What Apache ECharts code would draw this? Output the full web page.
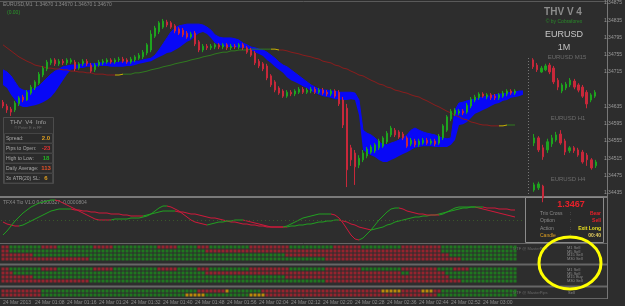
<!DOCTYPE html>
<html><head><meta charset="utf-8">
<script src="https://cdn.jsdelivr.net/npm/echarts@6/dist/echarts.min.js"></script>
<style>html,body{margin:0;padding:0;background:#2d2d2d;overflow:hidden}#c{width:625px;height:306px}</style>
</head><body><div id="c"></div>
<script>
// ---------------- DATA ----------------
const barOpen = [1.34645,1.34636,1.34629,1.34627,1.34641,1.34657,1.34650,1.34666,1.34678,1.34689,
1.34708,1.34722,1.34736,1.34743,1.34734,1.34740,1.34736,1.34738,1.34738,1.34724,
1.34734,1.34740,1.34731,1.34720,1.34731,1.34736,1.34738,1.34743,1.34738,1.34743,
1.34745,1.34743,1.34738,1.34743,1.34747,1.34750,1.34759,1.34766,1.34798,1.34808,
1.34819,1.34831,1.34829,1.34822,1.34815,1.34812,1.34805,1.34796,1.34805,1.34785,
1.34766,1.34775,1.34771,1.34773,1.34778,1.34773,1.34778,1.34771,1.34775,1.34773,
1.34778,1.34771,1.34766,1.34759,1.34740,1.34734,1.34729,1.34706,1.34692,1.34678,
1.34671,1.34659,1.34668,1.34664,1.34668,1.34675,1.34668,1.34671,1.34675,1.34668,
1.34673,1.34668,1.34664,1.34671,1.34668,1.34650,1.34631,1.34539,1.34527,1.34499,
1.34511,1.34520,1.34529,1.34532,1.34539,1.34543,1.34553,1.34569,1.34580,1.34576,
1.34571,1.34562,1.34548,1.34555,1.34546,1.34550,1.34557,1.34550,1.34555,1.34550,
1.34562,1.34580,1.34606,1.34618,1.34620,1.34624,1.34622,1.34636,1.34650,1.34655,
1.34664,1.34657,1.34662,1.34659,1.34655,1.34659,1.34664,1.34671,1.34666];
const barClose = [1.34636,1.34627,1.34622,1.34643,1.34655,1.34650,1.34668,1.34680,1.34692,1.34710,
1.34724,1.34738,1.34743,1.34734,1.34740,1.34736,1.34743,1.34743,1.34722,1.34734,
1.34740,1.34734,1.34717,1.34731,1.34738,1.34740,1.34743,1.34738,1.34743,1.34745,
1.34740,1.34738,1.34745,1.34750,1.34754,1.34761,1.34778,1.34803,1.34817,1.34829,
1.34833,1.34824,1.34819,1.34810,1.34805,1.34801,1.34796,1.34803,1.34780,1.34766,
1.34775,1.34771,1.34775,1.34778,1.34773,1.34778,1.34771,1.34775,1.34773,1.34778,
1.34771,1.34761,1.34754,1.34736,1.34729,1.34722,1.34701,1.34685,1.34673,1.34666,
1.34659,1.34668,1.34664,1.34671,1.34675,1.34668,1.34673,1.34675,1.34668,1.34673,
1.34666,1.34664,1.34671,1.34659,1.34641,1.34592,1.34488,1.34511,1.34495,1.34515,
1.34527,1.34536,1.34541,1.34546,1.34555,1.34562,1.34573,1.34585,1.34569,1.34564,
1.34562,1.34543,1.34557,1.34546,1.34555,1.34557,1.34550,1.34555,1.34548,1.34566,
1.34590,1.34611,1.34624,1.34627,1.34624,1.34620,1.34638,1.34652,1.34657,1.34664,
1.34659,1.34662,1.34655,1.34655,1.34662,1.34666,1.34671,1.34666,1.34671];
const barHigh = [1.34650,1.34641,1.34634,1.34648,1.34659,1.34662,1.34673,1.34685,1.34696,1.34715,
1.34729,1.34743,1.34747,1.34747,1.34745,1.34745,1.34747,1.34747,1.34743,1.34738,
1.34745,1.34745,1.34736,1.34736,1.34743,1.34745,1.34747,1.34747,1.34747,1.34750,
1.34750,1.34747,1.34750,1.34754,1.34759,1.34766,1.34782,1.34812,1.34822,1.34833,
1.34838,1.34836,1.34833,1.34826,1.34819,1.34817,1.34810,1.34808,1.34810,1.34789,
1.34780,1.34780,1.34780,1.34782,1.34782,1.34782,1.34782,1.34780,1.34780,1.34782,
1.34782,1.34775,1.34771,1.34764,1.34745,1.34738,1.34734,1.34710,1.34696,1.34682,
1.34675,1.34673,1.34673,1.34675,1.34680,1.34680,1.34678,1.34680,1.34680,1.34678,
1.34678,1.34673,1.34675,1.34675,1.34673,1.34657,1.34641,1.34546,1.34534,1.34522,
1.34534,1.34541,1.34546,1.34550,1.34560,1.34566,1.34578,1.34590,1.34585,1.34580,
1.34576,1.34566,1.34562,1.34560,1.34560,1.34562,1.34562,1.34560,1.34560,1.34571,
1.34594,1.34615,1.34629,1.34631,1.34629,1.34629,1.34643,1.34657,1.34662,1.34668,
1.34668,1.34666,1.34666,1.34664,1.34666,1.34671,1.34675,1.34675,1.34675];
const barLow = [1.34631,1.34620,1.34613,1.34622,1.34636,1.34645,1.34648,1.34662,1.34673,1.34685,
1.34703,1.34717,1.34731,1.34729,1.34729,1.34731,1.34731,1.34734,1.34717,1.34720,
1.34729,1.34729,1.34713,1.34715,1.34727,1.34731,1.34734,1.34734,1.34734,1.34738,
1.34736,1.34734,1.34734,1.34738,1.34743,1.34745,1.34754,1.34761,1.34794,1.34803,
1.34815,1.34819,1.34815,1.34805,1.34801,1.34796,1.34792,1.34792,1.34775,1.34761,
1.34761,1.34766,1.34766,1.34768,1.34768,1.34768,1.34766,1.34766,1.34768,1.34768,
1.34766,1.34757,1.34750,1.34731,1.34724,1.34717,1.34696,1.34680,1.34668,1.34662,
1.34655,1.34655,1.34659,1.34659,1.34664,1.34664,1.34664,1.34666,1.34664,1.34664,
1.34662,1.34659,1.34659,1.34655,1.34636,1.34585,1.34448,1.34497,1.34453,1.34492,
1.34506,1.34515,1.34525,1.34527,1.34534,1.34539,1.34548,1.34564,1.34564,1.34560,
1.34557,1.34539,1.34543,1.34541,1.34541,1.34546,1.34546,1.34546,1.34543,1.34546,
1.34557,1.34576,1.34601,1.34613,1.34615,1.34615,1.34618,1.34631,1.34645,1.34650,
1.34655,1.34652,1.34650,1.34650,1.34650,1.34655,1.34659,1.34662,1.34662];

const cloudUpper = [1.34720,1.34715,1.34706,1.34692,1.34678,1.34673,1.34671,1.34673,1.34678,1.34682,
1.34692,1.34701,1.34710,1.34717,1.34722,1.34727,1.34729,1.34731,1.34731,1.34731,
1.34734,1.34734,1.34734,1.34734,1.34736,1.34736,1.34736,1.34736,1.34736,1.34738,
1.34738,1.34738,1.34738,1.34740,1.34740,1.34743,1.34745,1.34747,1.34754,1.34766,
1.34780,1.34794,1.34808,1.34817,1.34822,1.34824,1.34826,1.34826,1.34826,1.34826,
1.34824,1.34819,1.34812,1.34801,1.34796,1.34794,1.34794,1.34794,1.34792,1.34789,
1.34782,1.34778,1.34773,1.34771,1.34768,1.34766,1.34761,1.34754,1.34747,1.34738,
1.34731,1.34727,1.34720,1.34713,1.34706,1.34699,1.34692,1.34685,1.34680,1.34675,
1.34673,1.34673,1.34671,1.34671,1.34668,1.34668,1.34668,1.34668,1.34666,1.34650,
1.34580,1.34573,1.34569,1.34562,1.34553,1.34546,1.34546,1.34550,1.34553,1.34557,
1.34562,1.34569,1.34580,1.34585,1.34580,1.34576,1.34573,1.34571,1.34569,1.34564,
1.34562,1.34560,1.34562,1.34627,1.34643,1.34645,1.34648,1.34650,1.34652,1.34655,
1.34657,1.34659,1.34659,1.34662,1.34664,1.34664,1.34666,1.34668,1.34668,1.34671,1.34671];
const cloudLower = [1.34685,1.34678,1.34662,1.34650,1.34638,1.34634,1.34634,1.34636,1.34638,1.34641,
1.34645,1.34650,1.34657,1.34668,1.34682,1.34696,1.34710,1.34720,1.34722,1.34724,
1.34724,1.34727,1.34727,1.34727,1.34729,1.34729,1.34729,1.34727,1.34727,1.34727,
1.34727,1.34729,1.34729,1.34731,1.34734,1.34736,1.34738,1.34740,1.34745,1.34750,
1.34754,1.34759,1.34761,1.34766,1.34771,1.34778,1.34785,1.34789,1.34798,1.34805,
1.34808,1.34803,1.34794,1.34782,1.34778,1.34775,1.34773,1.34773,1.34773,1.34771,
1.34771,1.34771,1.34766,1.34761,1.34757,1.34752,1.34743,1.34736,1.34727,1.34720,
1.34713,1.34703,1.34696,1.34692,1.34687,1.34682,1.34678,1.34671,1.34666,1.34662,
1.34659,1.34657,1.34655,1.34652,1.34652,1.34650,1.34650,1.34652,1.34650,1.34615,
1.34534,1.34527,1.34522,1.34518,1.34511,1.34506,1.34506,1.34511,1.34515,1.34520,
1.34525,1.34529,1.34534,1.34539,1.34541,1.34543,1.34543,1.34543,1.34541,1.34541,
1.34541,1.34541,1.34546,1.34557,1.34592,1.34594,1.34599,1.34608,1.34618,1.34622,
1.34627,1.34631,1.34636,1.34641,1.34643,1.34648,1.34650,1.34655,1.34657,1.34659,1.34662];

const maValues = [1.34778,1.34771,1.34764,1.34757,1.34750,1.34745,1.34740,1.34736,1.34731,1.34729,
1.34727,1.34724,1.34724,1.34722,1.34722,1.34720,1.34720,1.34717,1.34717,1.34715,
1.34715,1.34713,1.34713,1.34710,1.34710,1.34710,1.34708,1.34708,1.34708,1.34708,
1.34710,1.34710,1.34710,1.34713,1.34713,1.34715,1.34717,1.34720,1.34722,1.34724,
1.34727,1.34729,1.34731,1.34734,1.34736,1.34738,1.34740,1.34743,1.34745,1.34747,
1.34750,1.34752,1.34754,1.34757,1.34759,1.34761,1.34761,1.34764,1.34764,1.34766,
1.34766,1.34766,1.34768,1.34768,1.34768,1.34768,1.34768,1.34768,1.34768,1.34766,
1.34766,1.34764,1.34761,1.34759,1.34757,1.34754,1.34752,1.34750,1.34747,1.34745,
1.34740,1.34738,1.34736,1.34731,1.34729,1.34724,1.34722,1.34717,1.34713,1.34708,
1.34706,1.34701,1.34696,1.34692,1.34687,1.34685,1.34680,1.34678,1.34673,1.34671,
1.34668,1.34666,1.34662,1.34659,1.34657,1.34652,1.34648,1.34643,1.34638,1.34634,
1.34629,1.34624,1.34620,1.34615,1.34611,1.34606,1.34604,1.34599,1.34597,1.34594,
1.34592,1.34592,1.34590,1.34590,1.34590,1.34590,1.34592,1.34592,1.34592];

// pivot levels drawn across the price pane
const levelValues = [1.34754, 1.34747, 1.34643, 1.34532];
const levelNames  = ['', '', 'MS2', 'S2'];

// right price axis ticks
const priceTicks = [1.34875,1.34835,1.34795,1.34755,1.34715,1.34635,1.34595,1.34555,1.34515,1.34475,1.34435];

// TRIX oscillator (fast & signal)
const trixFast = [-0.00015,-0.00011,-0.00006,-0.00001,0.00003,0.00007,0.00010,0.00013,0.00015,0.00017,
0.00018,0.00019,0.00020,0.00020,0.00019,0.00017,0.00015,0.00013,0.00011,0.00009,
0.00007,0.00005,0.00003,0.00001,0.00000,0.00000,0.00000,0.00000,0.00001,0.00001,
0.00001,0.00001,0.00002,0.00002,0.00002,0.00003,0.00004,0.00006,0.00009,0.00012,
0.00014,0.00014,0.00013,0.00011,0.00009,0.00006,0.00003,0.00000,-0.00002,-0.00003,
-0.00004,-0.00005,-0.00004,-0.00003,-0.00002,-0.00002,-0.00001,-0.00001,0.00000,0.00000,
0.00000,-0.00001,-0.00002,-0.00003,-0.00004,-0.00005,-0.00006,-0.00007,-0.00007,-0.00007,
-0.00007,-0.00006,-0.00004,-0.00002,0.00000,0.00002,0.00003,0.00004,0.00005,0.00006,
0.00006,0.00006,0.00006,0.00005,0.00002,-0.00003,-0.00009,-0.00015,-0.00019,-0.00020,
-0.00018,-0.00014,-0.00010,-0.00005,0.00000,0.00004,0.00008,0.00011,0.00012,0.00012,
0.00011,0.00009,0.00008,0.00007,0.00006,0.00006,0.00005,0.00005,0.00005,0.00005,
0.00006,0.00008,0.00010,0.00012,0.00013,0.00013,0.00013,0.00013,0.00013,0.00013,
0.00013,0.00012,0.00012,0.00012,0.00011,0.00011,0.00011,0.00010,0.00010];
const trixSignal = [-0.00002,-0.00004,-0.00005,-0.00006,-0.00006,-0.00005,-0.00003,-0.00001,0.00001,0.00003,
0.00005,0.00007,0.00009,0.00010,0.00011,0.00011,0.00011,0.00011,0.00010,0.00010,
0.00009,0.00009,0.00008,0.00008,0.00007,0.00007,0.00007,0.00006,0.00006,0.00006,
0.00005,0.00005,0.00004,0.00004,0.00004,0.00004,0.00005,0.00006,0.00007,0.00008,
0.00009,0.00009,0.00009,0.00009,0.00008,0.00008,0.00007,0.00006,0.00006,0.00005,
0.00004,0.00003,0.00002,0.00002,0.00001,0.00000,-0.00001,-0.00002,-0.00002,-0.00003,
-0.00004,-0.00004,-0.00005,-0.00005,-0.00006,-0.00006,-0.00007,-0.00007,-0.00007,-0.00007,
-0.00007,-0.00007,-0.00006,-0.00006,-0.00005,-0.00005,-0.00004,-0.00004,-0.00003,-0.00002,
-0.00002,-0.00001,-0.00001,0.00000,0.00000,-0.00001,-0.00002,-0.00004,-0.00005,-0.00007,
-0.00008,-0.00009,-0.00010,-0.00009,-0.00008,-0.00007,-0.00005,-0.00004,-0.00002,-0.00001,
0.00000,0.00001,0.00002,0.00003,0.00003,0.00004,0.00004,0.00005,0.00005,0.00006,
0.00007,0.00008,0.00009,0.00010,0.00011,0.00012,0.00012,0.00013,0.00013,0.00012,
0.00011,0.00010,0.00009,0.00008,0.00007,0.00006,0.00005,0.00004,0.00003];
const trixLevels = [0.00003, -0.00018];

// Mini charts (M15, H1, H4)
const m15Open  = [1.34743,1.34731,1.34715,1.34720,1.34731,1.34724,1.34696,1.34671,1.34678,1.34685,1.34694,1.34685,1.34680,1.34668,1.34650,1.34659];
const m15Close = [1.34727,1.34720,1.34724,1.34729,1.34715,1.34692,1.34680,1.34685,1.34687,1.34696,1.34680,1.34673,1.34659,1.34641,1.34662,1.34668];
const m15Low   = [1.34722,1.34715,1.34713,1.34717,1.34710,1.34687,1.34673,1.34666,1.34673,1.34680,1.34675,1.34668,1.34655,1.34631,1.34645,1.34655];
const m15High  = [1.34747,1.34736,1.34729,1.34734,1.34736,1.34729,1.34701,1.34689,1.34692,1.34701,1.34699,1.34689,1.34685,1.34673,1.34666,1.34673];
const h1Open  = [1.34550,1.34562,1.34539,1.34534,1.34548,1.34557,1.34571,1.34555,1.34532,1.34539,1.34534,1.34529,1.34522,1.34511,1.34497];
const h1Close = [1.34562,1.34534,1.34518,1.34553,1.34562,1.34569,1.34550,1.34529,1.34539,1.34532,1.34522,1.34506,1.34511,1.34492,1.34506];
const h1Low   = [1.34543,1.34529,1.34511,1.34527,1.34541,1.34553,1.34546,1.34522,1.34527,1.34527,1.34518,1.34502,1.34497,1.34488,1.34492];
const h1High  = [1.34571,1.34566,1.34546,1.34560,1.34569,1.34576,1.34580,1.34560,1.34543,1.34543,1.34539,1.34534,1.34527,1.34515,1.34511];
const h4Open  = [1.34441,1.34446,1.34450];
const h4Close = [1.34453,1.34455,1.34423];
const h4Low   = [1.34437,1.34441,1.34413];
const h4High  = [1.34458,1.34460,1.34453];

// MTF signal squares: run-length [state, count]; R=sell, G=buy, Y=neutral
const panelARows = [
 [['R',2],['G',8],['R',4],['G',9],['R',5],['G',11],['R',5],['G',5],['R',3],['G',10],['R',10],['G',11],['R',7],['G',10],['R',10],['G',19]],
 [['R',2],['G',49],['R',59],['G',19]],
 [['R',8],['G',63],['R',41],['G',17]],
 [['R',22],['G',59],['R',34],['G',14]]
];
const panelBRows = [
 [['R',2],['G',8],['R',4],['G',9],['R',5],['G',11],['R',5],['G',5],['R',3],['G',10],['R',10],['G',9],['R',9],['G',10],['R',9],['G',4],['R',4],['G',12]],
 [['R',3],['G',48],['R',49],['G',2],['R',9],['G',18]],
 [['R',8],['G',63],['R',41],['G',17]],
 [['R',22],['G',59],['R',34],['G',14]]
];
const panelCRows = [
 [['R',10],['G',39],['R',7],['Y',1],['G',8],['R',30],['Y',5],['R',5],['Y',3],['R',2],['G',19]],
 [['R',10],['G',36],['Y',5],['G',11],['Y',4],['R',43],['G',20]]
];

const timeTicks = ['24 Mar 2013','24 Mar 01:08','24 Mar 01:16','24 Mar 01:24','24 Mar 01:32','24 Mar 01:40','24 Mar 01:48','24 Mar 01:56','24 Mar 02:04','24 Mar 02:12','24 Mar 02:20','24 Mar 02:28','24 Mar 02:36','24 Mar 02:44','24 Mar 02:52','24 Mar 03:00'];

// ---------------- BUILD ----------------
const NCAT = 131;
const cats = [];
for (let k = 0; k < NCAT; k++) { const m = 60 + k; cats.push(String(Math.floor(m/60)).padStart(2,'0') + ':' + String(m%60).padStart(2,'0')); }

const C = {bg:'#2d2d2d', up:'#1ea41e', dn:'#c8283a', cloud:'#0808f6',
  maR:'#8a1c1c', maG:'#2f7a1e', maY:'#c8b000', oscR:'#d0183a', oscG:'#20a020', sqR:'#b0202e', sqG:'#1c8a1c', sqY:'#e0a000'};

function ohlc(o,c,l,h){ return o.map((v,k)=>[v,c[k],l[k],h[k]]); }
function decode(runs){ const out=[]; runs.forEach(([s,n])=>{ for(let k=0;k<n;k++) out.push(s); }); return out; }
function squares(rows){ const d=[]; rows.forEach((r,ri)=>decode(r).forEach((s,ci)=>d.push([ci,ri,s]))); return d; }
function slopePieces(arr, upC, dnC, yellow){
  const segs=[]; let cur=null;
  for (let k=1;k<arr.length;k++){ let c = arr[k]>arr[k-1]?upC:(arr[k]<arr[k-1]?dnC:(cur||dnC)); segs.push(c); cur=c; }
  const pieces=[]; let start=-1e9; let col=segs[0];
  for (let k=1;k<segs.length;k++){
    if (segs[k]!==col){
      if (yellow){ pieces.push({gte:start, lt:k-0.7, color:col}); pieces.push({gte:k-0.7, lt:k+0.7, color:yellow}); start=k+0.7; }
      else { pieces.push({gte:start, lt:k, color:col}); start=k; }
      col=segs[k];
    }
  }
  pieces.push({gte:start, lte:1e9, color:col});
  return pieces;
}

const mainMin = 1.34425, mainMax = 1.34882;
const lastClose = barClose[barClose.length-1];
const lineStyles = [
  {color:'#3c6a1c', width:1, type:'solid'},
  {color:'#2f8f9c', width:1, type:[2,2]},
  {color:'#75752a', width:1, type:[2,2]},
  {color:'#3b7224', width:1, type:'solid'}
];

const hiddenCat = (gi, n) => ({type:'category', gridIndex:gi, data: n || cats, show:false, boundaryGap:true});
const hiddenVal = (gi, min, max) => ({type:'value', gridIndex:gi, min, max, show:false, scale:true});
const font = 'Liberation Sans, Arial, sans-serif';

const option = {
  backgroundColor: C.bg,
  animation: false,
  grid: [
    {left:1, top:0, width:524, height:197},
    {left:0, top:0, width:607, height:197},
    {left:531, top:56, width:66, height:54},
    {left:532, top:128, width:66, height:46},
    {left:532, top:180, width:66, height:17},
    {left:1, top:198, width:524, height:45},
    {left:1, top:245, width:524, height:16},
    {left:1, top:267, width:524, height:16},
    {left:1, top:289, width:524, height:8}
  ],
  xAxis: [
    hiddenCat(0),
    {type:'value', gridIndex:1, show:false, min:0, max:1},
    hiddenCat(2, m15Open.map((_,k)=>'m'+k)),
    hiddenCat(3, h1Open.map((_,k)=>'h'+k)),
    hiddenCat(4, h1Open.map((_,k)=>'k'+k)),
    hiddenCat(5),
    hiddenCat(6),
    hiddenCat(7),
    {type:'category', gridIndex:8, data:cats, boundaryGap:true, axisLine:{show:false}, axisTick:{show:false},
     axisLabel:{show:true, interval:(i)=> i%8===0 && i/8 < timeTicks.length, formatter:(v,i)=>timeTicks[Math.round(i/8)] || '',
       align:'left', color:'#8c8c8c', fontSize:5, fontFamily:font, margin:3}}
  ],
  yAxis: [
    hiddenVal(0, mainMin, mainMax),
    {type:'value', gridIndex:1, min:mainMin, max:mainMax, position:'right', axisLine:{show:false}, axisTick:{show:false}, splitLine:{show:false},
     axisLabel:{customValues:priceTicks, formatter:v=>v.toFixed(5), color:'#9a9a9a', fontSize:5, fontFamily:font, margin:2}},
    hiddenVal(2, 1.34627, 1.34752),
    hiddenVal(3, 1.34478, 1.34585),
    hiddenVal(4, 1.34425, 1.34464),
    hiddenVal(5, -0.00023, 0.00022),
    {type:'category', gridIndex:6, data:['1','2','3','4'], inverse:true, show:false},
    {type:'category', gridIndex:7, data:['1','2','3','4'], inverse:true, show:false},
    {type:'category', gridIndex:8, data:['1','2'], inverse:true, show:false}
  ],
  visualMap: [],
  series: []
};

const S = option.series;
S.push({type:'line', xAxisIndex:0, yAxisIndex:0, data:cloudLower, stack:'cloud', symbol:'none', lineStyle:{width:0}, silent:true, z:1});
S.push({type:'line', xAxisIndex:0, yAxisIndex:0, data:cloudUpper.map((v,k)=>v-cloudLower[k]), stack:'cloud', symbol:'none',
  lineStyle:{width:1, color:C.cloud}, areaStyle:{color:C.cloud, opacity:1}, silent:true, z:1});
const maIdx = S.length;
S.push({type:'line', xAxisIndex:0, yAxisIndex:0, data:maValues, symbol:'none', lineStyle:{width:1}, silent:true, z:2});
option.visualMap.push({show:false, seriesIndex:maIdx, dimension:0, pieces:slopePieces(maValues, C.maG, C.maR, C.maY)});
S.push({type:'candlestick', xAxisIndex:0, yAxisIndex:0, data:ohlc(barOpen,barClose,barLow,barHigh), barWidth:2,
  itemStyle:{color:C.up, color0:C.dn, borderColor:C.up, borderColor0:C.dn, borderWidth:1}, z:3,
  markLine:{symbol:['none','none'], silent:true, animation:false,
    data: levelValues.map((v,k)=>({yAxis:v, lineStyle:lineStyles[k],
      label:{show: !!levelNames[k], formatter: levelNames[k], position:'insideMiddleBottom', color:'#8a8a8a', fontSize:6, fontFamily:font, distance:1}}))
      .concat([{yAxis:lastClose, lineStyle:{color:'#8394ad', width:1, type:'solid'},
        label:{show:true, position:'end', distance:82, formatter:p=>p.value.toFixed(5), backgroundColor:'#7d7d7d', color:'#e6e6e6', fontSize:5, fontFamily:font, padding:[1,1,0,1]}}])
  }});
const miniStyle = {color:C.up, color0:C.dn, borderColor:C.up, borderColor0:C.dn, borderWidth:1};
S.push({type:'candlestick', xAxisIndex:2, yAxisIndex:2, data:ohlc(m15Open,m15Close,m15Low,m15High), barWidth:2, itemStyle:miniStyle, z:3});
S.push({type:'candlestick', xAxisIndex:3, yAxisIndex:3, data:ohlc(h1Open,h1Close,h1Low,h1High), barWidth:2, itemStyle:miniStyle, z:3});
S.push({type:'candlestick', xAxisIndex:4, yAxisIndex:4, data:ohlc(h4Open,h4Close,h4Low,h4High), barWidth:2, itemStyle:miniStyle, z:3, clip:true});
const sIdx = S.length;
S.push({type:'line', xAxisIndex:5, yAxisIndex:5, data:trixSignal, symbol:'none', lineStyle:{width:1}, silent:true,
  markLine:{symbol:['none','none'], silent:true, label:{show:false},
    data: trixLevels.map((v,k)=>({yAxis:v, lineStyle:{color: k? '#3a5a2a':'#6a6a6a', type:[1,3], width:1}}))}});
option.visualMap.push({show:false, seriesIndex:sIdx, dimension:0, pieces:slopePieces(trixSignal, C.oscG, C.oscR)});
const fIdx = S.length;
S.push({type:'line', xAxisIndex:5, yAxisIndex:5, data:trixFast, symbol:'none', lineStyle:{width:1}, silent:true});
option.visualMap.push({show:false, seriesIndex:fIdx, dimension:0, pieces:slopePieces(trixFast, C.oscG, C.oscR)});
const sqColor = p => ({R:C.sqR, G:C.sqG, Y:C.sqY})[p.data[2]];
[[panelARows,6],[panelBRows,7],[panelCRows,8]].forEach(([rows,gi])=>{
  S.push({type:'scatter', xAxisIndex:gi, yAxisIndex:gi, data:squares(rows), symbol:'rect', symbolSize:[3,3], silent:true,
    itemStyle:{color:sqColor}});
});

// ---------------- GRAPHICS ----------------
const T = (x,y,text,fill,size,extra) => Object.assign({type:'text', x, y, style:Object.assign({text, fill, fontSize:size||7, fontFamily:font}, extra||{}), silent:true});
const L = (x1,y1,x2,y2,stroke,w,dash) => ({type:'line', shape:{x1,y1,x2,y2}, style:{stroke, lineWidth:w||1, lineDash:dash||null}, silent:true});
const R = (x,y,w,h,fill,stroke) => ({type:'rect', shape:{x,y,width:w,height:h}, style:{fill, stroke:stroke||null, lineWidth:1}, silent:true});
const G = [];
G.push(L(0,1.5,607,1.5,'#5a5a5a',1));
G.push(L(0,197,607,197,'#7a7a7a',2));
G.push(L(0,243.5,607,243.5,'#666',1));
G.push(L(0,264.5,607,264.5,'#666',2));
G.push(L(0,286.5,607,286.5,'#666',2));
G.push(L(0,298.5,607,298.5,'#666',1));
G.push(L(607.5,0,607.5,299,'#777',1));
G.push(L(528.5,58,528.5,197,'#777',1,[1,2]));
G.push(T(3,2,'EURUSD,M1  1.34670 1.34670 1.34670 1.34670','#8a8a8a',5));
G.push(T(7,10,'(0.00)','#2a9a2a',5));
G.push(T(563,7,'THV V 4','#8c8c8c',10,{align:'center', fontWeight:'bold'}));
G.push(T(564,19,'© by Cobraforex','#2a8a2a',5,{align:'center'}));
G.push(T(564,30,'EURUSD','#c8c8c8',9,{align:'center'}));
G.push(T(564,43,'1M','#c0c0c0',9,{align:'center'}));
G.push(T(567,54,'EURUSD M15','#6c6c6c',6,{align:'center'}));
G.push(T(568,115,'EURUSD H1','#6c6c6c',6,{align:'center'}));
G.push(T(568,176,'EURUSD H4','#6c6c6c',6,{align:'center'}));
G.push(R(3.5,117.5,50,66,'#2f2f2f','#4c4c4c'));
G.push(T(28,119,'THV  V4  Info','#a0a0a0',6,{align:'center'}));
G.push(T(28,126,'© Peter E in FF','#6a6a6a',4,{align:'center'}));
const infoRows = [['Spread:','2.0','#e0a020'],['Pips to Open:','-23','#e03030'],['High to Low:','18','#22b022'],['Daily Average:','113','#e05028'],['3x ATR(20) SL:','6','#e0a020']];
infoRows.forEach((r,k)=>{ const y=134+k*10; G.push(R(4.5,y-0.5,48,9.5,'#2b2b2b','#454545')); G.push(T(6,y+2,r[0],'#a8a8a8',5)); G.push(T(46,y+1,r[1],r[2],6,{align:'center', fontWeight:'bold'})); });
G.push(T(3,200,'TFX4 Tio V1.0 0.0000327 -0.0000804','#8a8a8a',5));
G.push(R(525.5,197.5,78,45,'#2a2a2a','#8a8a8a'));
G.push(T(571,200,'1.3467','#e8202a',9,{align:'center', fontWeight:'bold'}));
const sig = [['Trix Cross',':','Bear','#e8202a'],['Option',':','Sell','#e8202a'],['Action',':','Exit Long','#e8e020'],['Candle',':','00:40','#e8d060']];
sig.forEach((r,k)=>{ const y=211+k*7.5; G.push(T(540,y,r[0], k===3?'#e0a020':'#8a8a8a',5)); G.push(T(570,y,r[1],'#8a8a8a',5)); G.push(T(601,y,r[2],r[3],5,{align:'right', fontWeight:'bold'})); });
G.push(T(513,247,'MTF @ MasterPips','#6a6a6a',4));
G.push(T(513,291,'MTF @ MasterPips','#6a6a6a',4));
['M1 Sell','M5 Sell','M15 Sell','M30 Sell'].forEach((t,k)=>G.push(T(567,246+k*3.6,t,'#8a8a8a',4)));
['M1 Sell','M5 Sell','M15 Buy','M30 Sell'].forEach((t,k)=>G.push(T(567,268+k*3.6,t,'#8a8a8a',4)));
G.push(T(568,291,'Sell','#8a8a8a',4));
G.push({type:'ellipse', shape:{cx:570, cy:263, rx:31, ry:26}, style:{fill:null, stroke:'#ffff00', lineWidth:3}, silent:true, z:100});
option.graphic = G;

const chart = echarts.init(document.getElementById('c'), null, {renderer:'canvas', width:625, height:306});
chart.setOption(option);
</script></body></html>
